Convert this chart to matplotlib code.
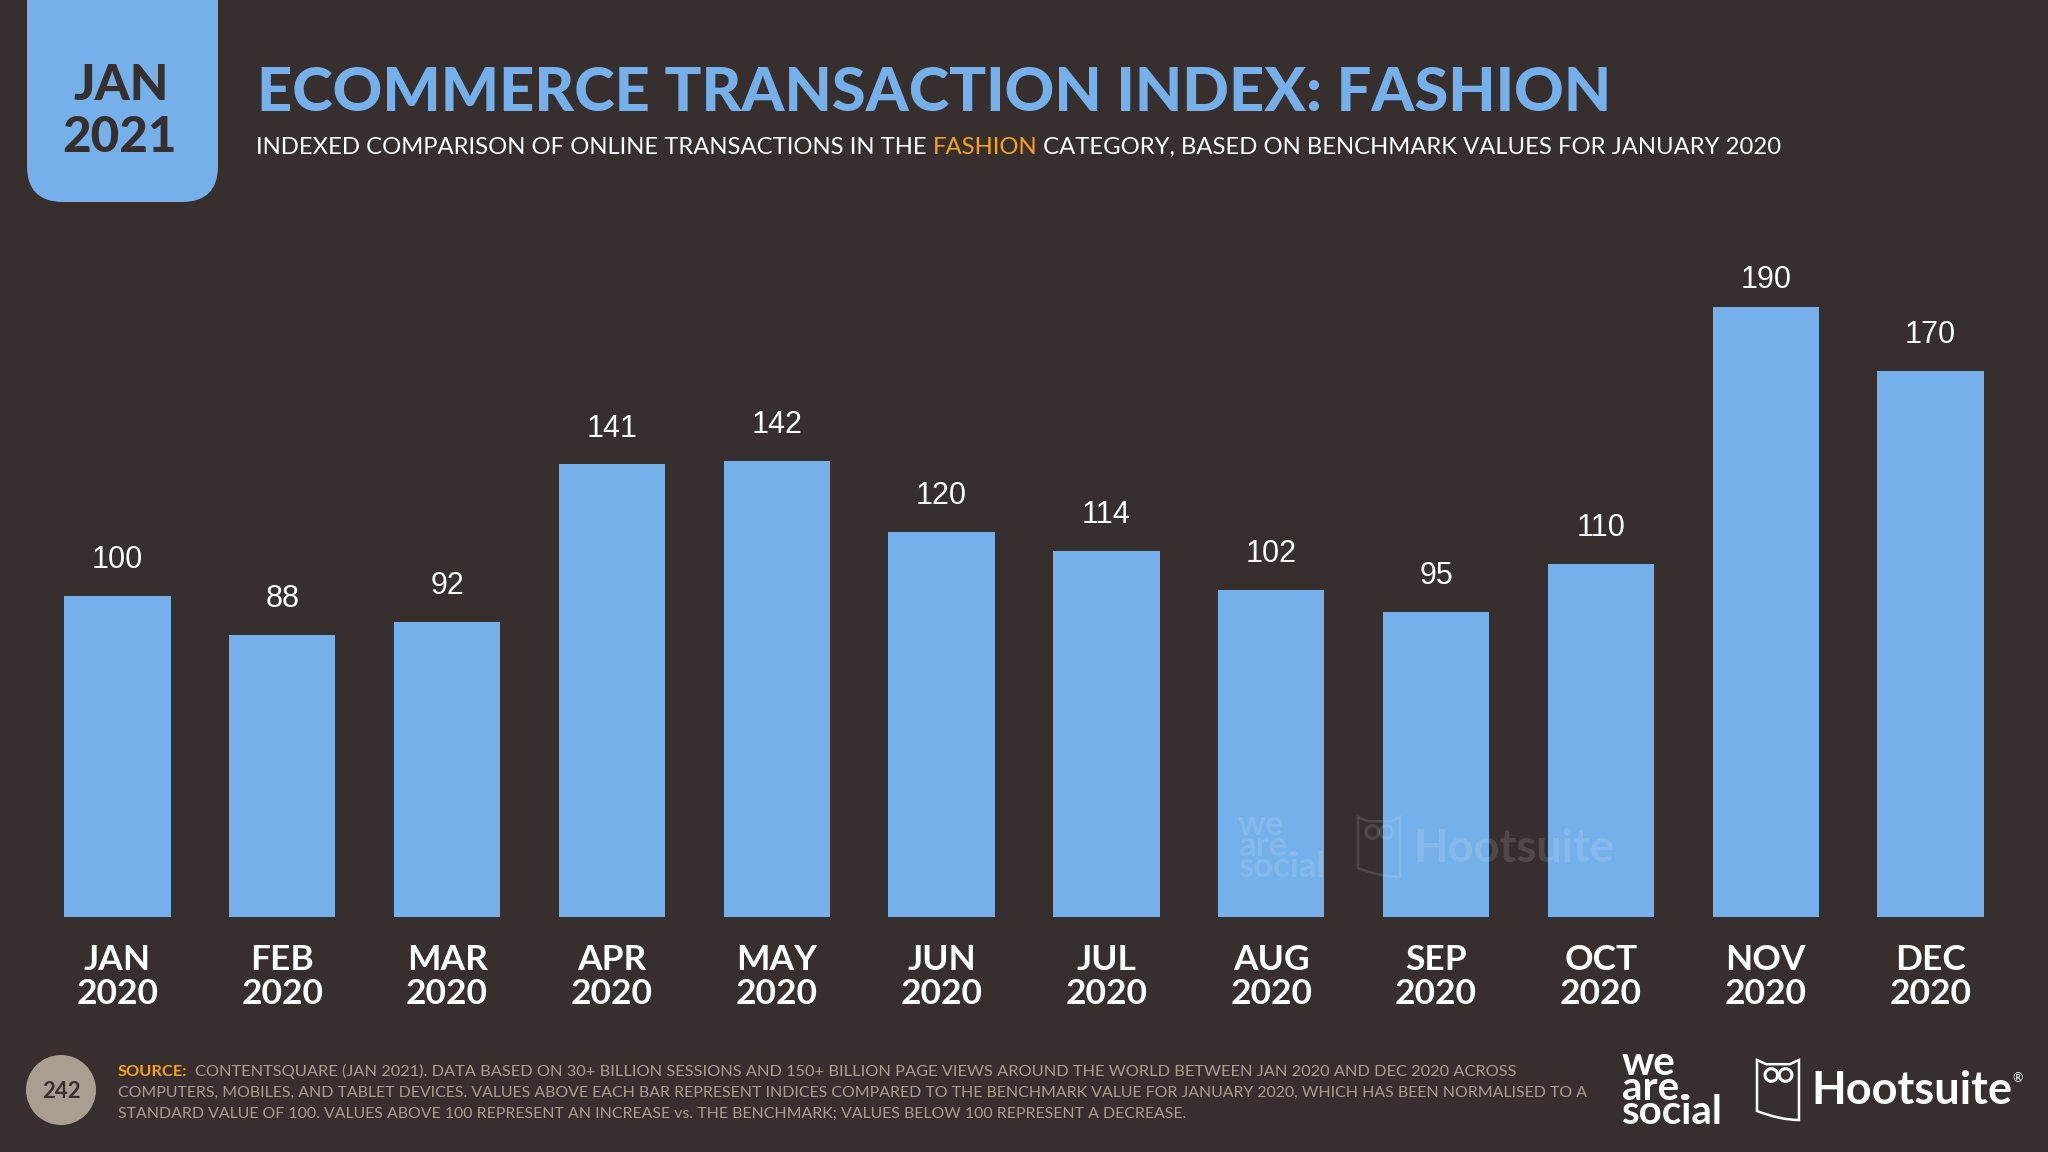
import matplotlib
matplotlib.use('Agg')
import matplotlib.pyplot as plt
from matplotlib.patches import Circle, FancyBboxPatch, PathPatch
from matplotlib.path import Path

months = ['JAN', 'FEB', 'MAR', 'APR', 'MAY', 'JUN', 'JUL', 'AUG', 'SEP', 'OCT', 'NOV', 'DEC']
years = ['2020'] * 12
index_values = [100, 88, 92, 141, 142, 120, 114, 102, 95, 110, 190, 170]

bg_color = '#372F2E'
blue = '#75B0EA'
orange = '#F9A11B'
grey = '#A89F92'
main_font = ['Lato', 'DejaVu Sans']
num_font = ['Liberation Sans', 'DejaVu Sans']

W, H = 2048, 1152
fig = plt.figure(figsize=(W / 100, H / 100), dpi=100, facecolor=bg_color)

# chart area, placed by pixels
left, right, base, top = 35, 2013, 917, 275
ax = fig.add_axes([left / W, 1 - base / H, (right - left) / W, (base - top) / H])
ax.set_facecolor('none')
bars = ax.bar(range(12), index_values, width=0.646, color=blue)
ax.set_xlim(-0.5, 11.5)
ax.set_ylim(0, 200)
ax.set_yticks([])
ax.set_xticks(range(12))
ax.set_xticklabels([m + '\n' + y for m, y in zip(months, years)], family=main_font,
                   fontsize=25.5, fontweight='bold', color='white', linespacing=1.06)
ax.tick_params(axis='x', length=0, pad=19.5)
for s in ax.spines.values():
    s.set_visible(False)
labels = ax.bar_label(bars, padding=15, color='white', fontsize=22, family=num_font)
labels[10].xyann = (0, 9)


# overlay in pixel coordinates
ov = fig.add_axes([0, 0, 1, 1])
ov.set_xlim(0, W)
ov.set_ylim(H, 0)
ov.axis('off')
ov.patch.set_alpha(0)


def owl(x, y, w, h, color, alpha=1.0):
    verts = [(x, y), (x + .22 * w, y + .07 * h), (x + .5 * w, y + .07 * h), (x + .78 * w, y + .07 * h),
             (x + w, y), (x + w, y + h), (x + .55 * w, y + h), (x, y + .85 * h), (x, y + .55 * h), (x, y)]
    codes = [Path.MOVETO, Path.LINETO, Path.LINETO, Path.LINETO, Path.LINETO, Path.LINETO,
             Path.CURVE3, Path.CURVE3, Path.LINETO, Path.CLOSEPOLY]
    ov.add_patch(PathPatch(Path(verts, codes), fc='none', ec=color, lw=1.8, alpha=alpha))
    for cx in (.34, .68):
        ov.add_patch(Circle((x + cx * w, y + .25 * h), .15 * w, fc='none', ec=color, lw=2.2, alpha=alpha))


def logos(we_x, we_y, we_size, owl_x, owl_y, hs_x, hs_y, alpha=1.0):
    # we_y is the baseline of the last line
    ov.text(we_x, we_y, 'we\nare.\nsocial', color='white', alpha=alpha, family=main_font, fontsize=we_size,
            fontweight='bold', va='baseline', ha='left', linespacing=0.58)
    owl(owl_x, owl_y, 42, 60, 'white', alpha)
    ov.text(hs_x, hs_y, 'Hootsuite', color='white', alpha=alpha, family=main_font, fontsize=32.5,
            fontweight='bold', va='baseline', ha='left')


# watermark sits on top of the bars
logos(1238, 877, 25, 1358, 817, 1413, 862, alpha=0.13)

# date badge
ov.add_patch(FancyBboxPatch((27, -60), 191, 262, boxstyle='round,pad=0,rounding_size=36', fc=blue, ec='none'))
ov.text(121, 85, 'JAN', color=bg_color, family=main_font, fontsize=36, fontweight=900, ha='center', va='center')
ov.text(119, 138, '2021', color=bg_color, family=main_font, fontsize=35.5, fontweight=900, ha='center', va='center')

ov.text(257, 111, 'ECOMMERCE TRANSACTION INDEX: FASHION', color=blue, family=main_font, fontsize=44.2,
        fontweight=900, ha='left', va='baseline')

# subtitle has one orange word, so it is three texts in a row
r = fig.canvas.get_renderer()
x = 256
for part, col in [('INDEXED COMPARISON OF ONLINE TRANSACTIONS IN THE ', 'white'), ('FASHION', orange),
                  (' CATEGORY, BASED ON BENCHMARK VALUES FOR JANUARY 2020', 'white')]:
    t = ov.text(x, 154, part.replace(' ', '\u00a0'), color=col, family=main_font, fontsize=17.2, ha='left', va='baseline')
    x = ov.transData.inverted().transform(t.get_window_extent(r))[1][0]

# footer
ov.add_patch(Circle((61, 1090), 35, fc=grey, ec='none'))
ov.text(61, 1091, '242', color=bg_color, family=main_font, fontsize=16, fontweight='bold', ha='center', va='center')
t = ov.text(118, 1076, 'SOURCE:', color=orange, family=main_font, fontsize=11.8, fontweight='bold', va='baseline')
ov.text(195, 1076, 'CONTENTSQUARE (JAN 2021). DATA BASED ON 30+ BILLION SESSIONS AND 150+ BILLION PAGE VIEWS AROUND THE WORLD BETWEEN JAN 2020 AND DEC 2020 ACROSS',
        color=grey, family=main_font, fontsize=11.75, va='baseline')
ov.text(118, 1097, 'COMPUTERS, MOBILES, AND TABLET DEVICES. VALUES ABOVE EACH BAR REPRESENT INDICES COMPARED TO THE BENCHMARK VALUE FOR JANUARY 2020, WHICH HAS BEEN NORMALISED TO A',
        color=grey, family=main_font, fontsize=11.4, va='baseline')
ov.text(118, 1118, 'STANDARD VALUE OF 100. VALUES ABOVE 100 REPRESENT AN INCREASE vs. THE BENCHMARK; VALUES BELOW 100 REPRESENT A DECREASE.',
        color=grey, family=main_font, fontsize=11.4, va='baseline')

logos(1622, 1124, 29, 1757, 1060, 1811, 1104)
ov.text(2012, 1078, '®', color='white', family=main_font, fontsize=9, ha='left', va='center')

fig.savefig('out.png', dpi=100, facecolor=bg_color)
